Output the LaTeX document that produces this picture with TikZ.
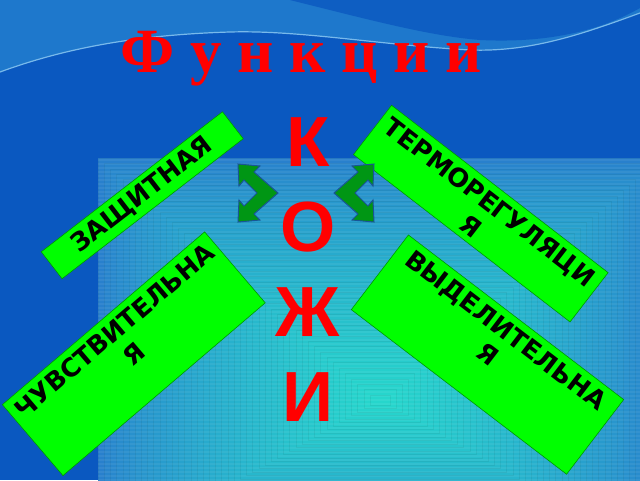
\documentclass[tikz,border=0pt]{standalone}
\usepackage{fontspec}
\newfontfamily\boxfont{DejaVu Sans}
\newfontfamily\titlefont{Liberation Serif}
\newfontfamily\letterfont{Liberation Sans}
\definecolor{slideblue}{RGB}{10,88,192}
\definecolor{waveblue}{RGB}{30,120,204}
\definecolor{waveline}{RGB}{120,185,235}
\definecolor{outerblue}{RGB}{40,128,205}
\definecolor{innercyan}{RGB}{38,214,204}
\definecolor{boxgreen}{RGB}{0,255,0}
\definecolor{boxedge}{RGB}{0,150,0}
\definecolor{arrowgreen}{RGB}{0,150,20}
\definecolor{arrowedge}{RGB}{25,85,150}
\definecolor{skinred}{RGB}{255,0,0}

\begin{document}
\begin{tikzpicture}[x=1pt,y=-1pt,
    func box/.style={rectangle,draw=boxedge,fill=boxgreen,line width=0.6pt,inner sep=0pt},
    func text/.style={font={\boxfont\bfseries\fontsize{25.5}{30}\selectfont},align=center,inner sep=7pt,anchor=north},
    title text/.style={font={\titlefont\bfseries\fontsize{63}{70}\selectfont},text=skinred,inner sep=0pt,anchor=base},
    skin letters/.style={font={\letterfont\bfseries\fontsize{71}{85}\selectfont},text=skinred,align=center,inner sep=0pt,anchor=north},
    skin arrow/.style={fill=arrowgreen,draw=arrowedge,line width=1pt,line join=miter}]
  \useasboundingbox (0,0) rectangle (640,480);
  % background
  \fill[slideblue] (0,0) rectangle (640,480);
  \fill[waveblue] (0,0) -- (640,0) -- (640,13) .. controls (580,35) and (530,52) .. (470,50)
    .. controls (380,45) and (300,30) .. (230,32) .. controls (130,35) and (60,50) .. (0,72) -- cycle;
  \draw[waveline,line width=1.2pt] (640,13) .. controls (580,35) and (530,52) .. (470,50)
    .. controls (380,45) and (300,30) .. (230,32) .. controls (130,35) and (60,50) .. (0,72);
  \fill[slideblue!80!waveblue] (290,0) .. controls (370,20) and (430,36) .. (480,40)
    .. controls (560,44) and (610,25) .. (640,8) -- (640,0) -- cycle;
  \begin{scope}
    \clip (98,158) rectangle (640,480);
    \foreach \i in {0,...,44}{
      \pgfmathsetmacro\t{\i/44}
      \pgfmathsetmacro\p{100*(\t^0.75)}
      \fill[innercyan!\p!outerblue,draw=innercyan!\p!outerblue!94!black,line width=0.4pt]
        ({98+272*\t},{158+237*\t}) rectangle ({660-270*\t},{560-155*\t});
    }
    \foreach \y in {160,164,...,480}
      \draw[white,opacity=0.06,line width=1.5pt] (98,\y) -- (640,\y);
  \end{scope}

  % title and letters
  \node[title text] (title) at (301,72) {Ф у н к ц и и};
  \node[skin letters] (skin) at (308,117) {К\\О\\Ж\\И};

  % function boxes
  \node[func box,font={\boxfont\bfseries\fontsize{25.5}{30}\selectfont},
        minimum width=229pt,minimum height=34pt,rotate=37.7] (zasch) at (142.25,195.25) {ЗАЩИТНАЯ};
  \node[func box,minimum width=273.7pt,minimum height=62.3pt,rotate=-37.7] (termo) at (480.8,213.6) {};
  \node[func text,rotate=-37.7] (termotext) at (termo.north) {ТЕРМОРЕГУЛЯЦИ\\Я};
  \node[func box,minimum width=266pt,minimum height=93.3pt,rotate=40.5] (chuvst) at (133.8,353.75) {};
  \node[func text,rotate=40.5] (chuvsttext) at (chuvst.north) {ЧУВСТВИТЕЛЬНА\\Я};
  \node[func box,minimum width=271pt,minimum height=94pt,rotate=-37.4] (vydel) at (487.5,354.6) {};
  \node[func text,rotate=-37.4] (vydeltext) at (vydel.north) {ВЫДЕЛИТЕЛЬНА\\Я};

  % bent arrows
  \draw[skin arrow] (238,164) -- (260,166) -- (254,172) -- (278,193) -- (254,214) -- (260,220)
    -- (238,222) -- (239,200) -- (244,206) -- (257,193) -- (244,180) -- (239,186) -- cycle;
  \begin{scope}[shift={(612,0)},xscale=-1]
    \draw[skin arrow] (238,164) -- (260,166) -- (254,172) -- (278,193) -- (254,214) -- (260,220)
      -- (238,222) -- (239,200) -- (244,206) -- (257,193) -- (244,180) -- (239,186) -- cycle;
  \end{scope}
\end{tikzpicture}
\end{document}
